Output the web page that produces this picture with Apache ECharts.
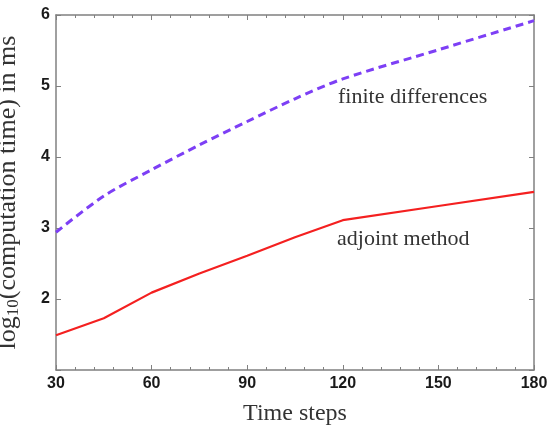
<!DOCTYPE html>
<html><head><meta charset="utf-8">
<script src="https://cdn.jsdelivr.net/npm/echarts@6/dist/echarts.min.js"></script>
<style>html,body{margin:0;padding:0;background:#fff}#c{width:547px;height:425px}</style>
</head><body><div id="c"></div>
<script>
var timeSteps = [30, 45, 60, 75, 90, 105, 120, 150, 180];
var finiteDiff = [2.94, 3.45, 3.82, 4.17, 4.50, 4.82, 5.10, 5.51, 5.92];
var adjoint = [1.49, 1.73, 2.09, 2.36, 2.61, 2.87, 3.11, 3.31, 3.51];
var xTicks = [30, 60, 90, 120, 150, 180];
var yTicks = [2, 3, 4, 5, 6];

var chart = echarts.init(document.getElementById('c'));
var axisCol = '#808080';
var labelStyle = {color: '#1a1a1a', fontFamily: 'Liberation Sans', fontSize: 16, fontWeight: 'bold'};
function pair(a, b) { return a.map(function (v, i) { return [v, b[i]]; }); }
chart.setOption({
  animation: false,
  grid: {left: 56, right: 13, top: 15, bottom: 55, outerBoundsMode: 'none', containLabel: false},
  xAxis: [{
    type: 'value', min: 30, max: 180, interval: 30, position: 'bottom',
    name: 'Time steps', nameLocation: 'middle', nameGap: 32,
    nameTextStyle: {fontFamily: 'Liberation Serif', fontSize: 24, color: '#333', verticalAlign: 'top'},
    axisLine: {show: true, lineStyle: {color: axisCol, width: 1.5}},
    axisTick: {show: true, inside: true, length: 5, lineStyle: {color: axisCol}},
    minorTick: {show: true, splitNumber: 5, length: 3, lineStyle: {color: axisCol}},
    axisLabel: Object.assign({margin: 6, formatter: function (v) { return xTicks.indexOf(v) >= 0 ? String(v) : ''; }}, labelStyle),
    splitLine: {show: false}
  }, {
    type: 'value', min: 30, max: 180, interval: 30, position: 'top',
    axisLine: {show: true, lineStyle: {color: axisCol, width: 1.5}},
    axisTick: {show: true, inside: true, length: 5, lineStyle: {color: axisCol}},
    minorTick: {show: true, splitNumber: 5, length: 3, lineStyle: {color: axisCol}},
    axisLabel: {show: false}, splitLine: {show: false}
  }],
  yAxis: [{
    type: 'value', min: 1, max: 6, interval: 1, position: 'left',
    name: 'log{sub|10}(computation time) in ms', nameLocation: 'middle', nameGap: 34,
    nameTextStyle: {fontFamily: 'Liberation Serif', fontSize: 26, color: '#333',
      rich: {sub: {fontFamily: 'Liberation Serif', fontSize: 17, color: '#333', verticalAlign: 'bottom', padding: [10, 0, 0, 0]}}},
    axisLine: {show: true, lineStyle: {color: axisCol, width: 1.5}},
    axisTick: {show: true, inside: true, length: 5, lineStyle: {color: axisCol}},
    axisLabel: Object.assign({margin: 6, formatter: function (v) { return yTicks.indexOf(v) >= 0 ? String(v) : ''; }}, labelStyle),
    splitLine: {show: false}
  }, {
    type: 'value', min: 1, max: 6, interval: 1, position: 'right',
    axisLine: {show: true, lineStyle: {color: axisCol, width: 1.5}},
    axisTick: {show: true, inside: true, length: 5, lineStyle: {color: axisCol}},
    axisLabel: {show: false}, splitLine: {show: false}
  }],
  series: [{
    name: 'finite differences', type: 'line', data: pair(timeSteps, finiteDiff),
    showSymbol: false, smooth: 0.3,
    lineStyle: {color: '#7d3ff5', width: 3, type: [8, 5]}
  }, {
    name: 'adjoint method', type: 'line', data: pair(timeSteps, adjoint),
    showSymbol: false, smooth: false,
    lineStyle: {color: '#f42020', width: 2.2}
  }],
  graphic: [
    {type: 'text', left: 338, top: 86, style: {text: 'finite differences', font: '22px "Liberation Serif"', fill: '#333'}},
    {type: 'text', left: 337, top: 228, style: {text: 'adjoint method', font: '22px "Liberation Serif"', fill: '#333'}}
  ]
});
</script></body></html>
